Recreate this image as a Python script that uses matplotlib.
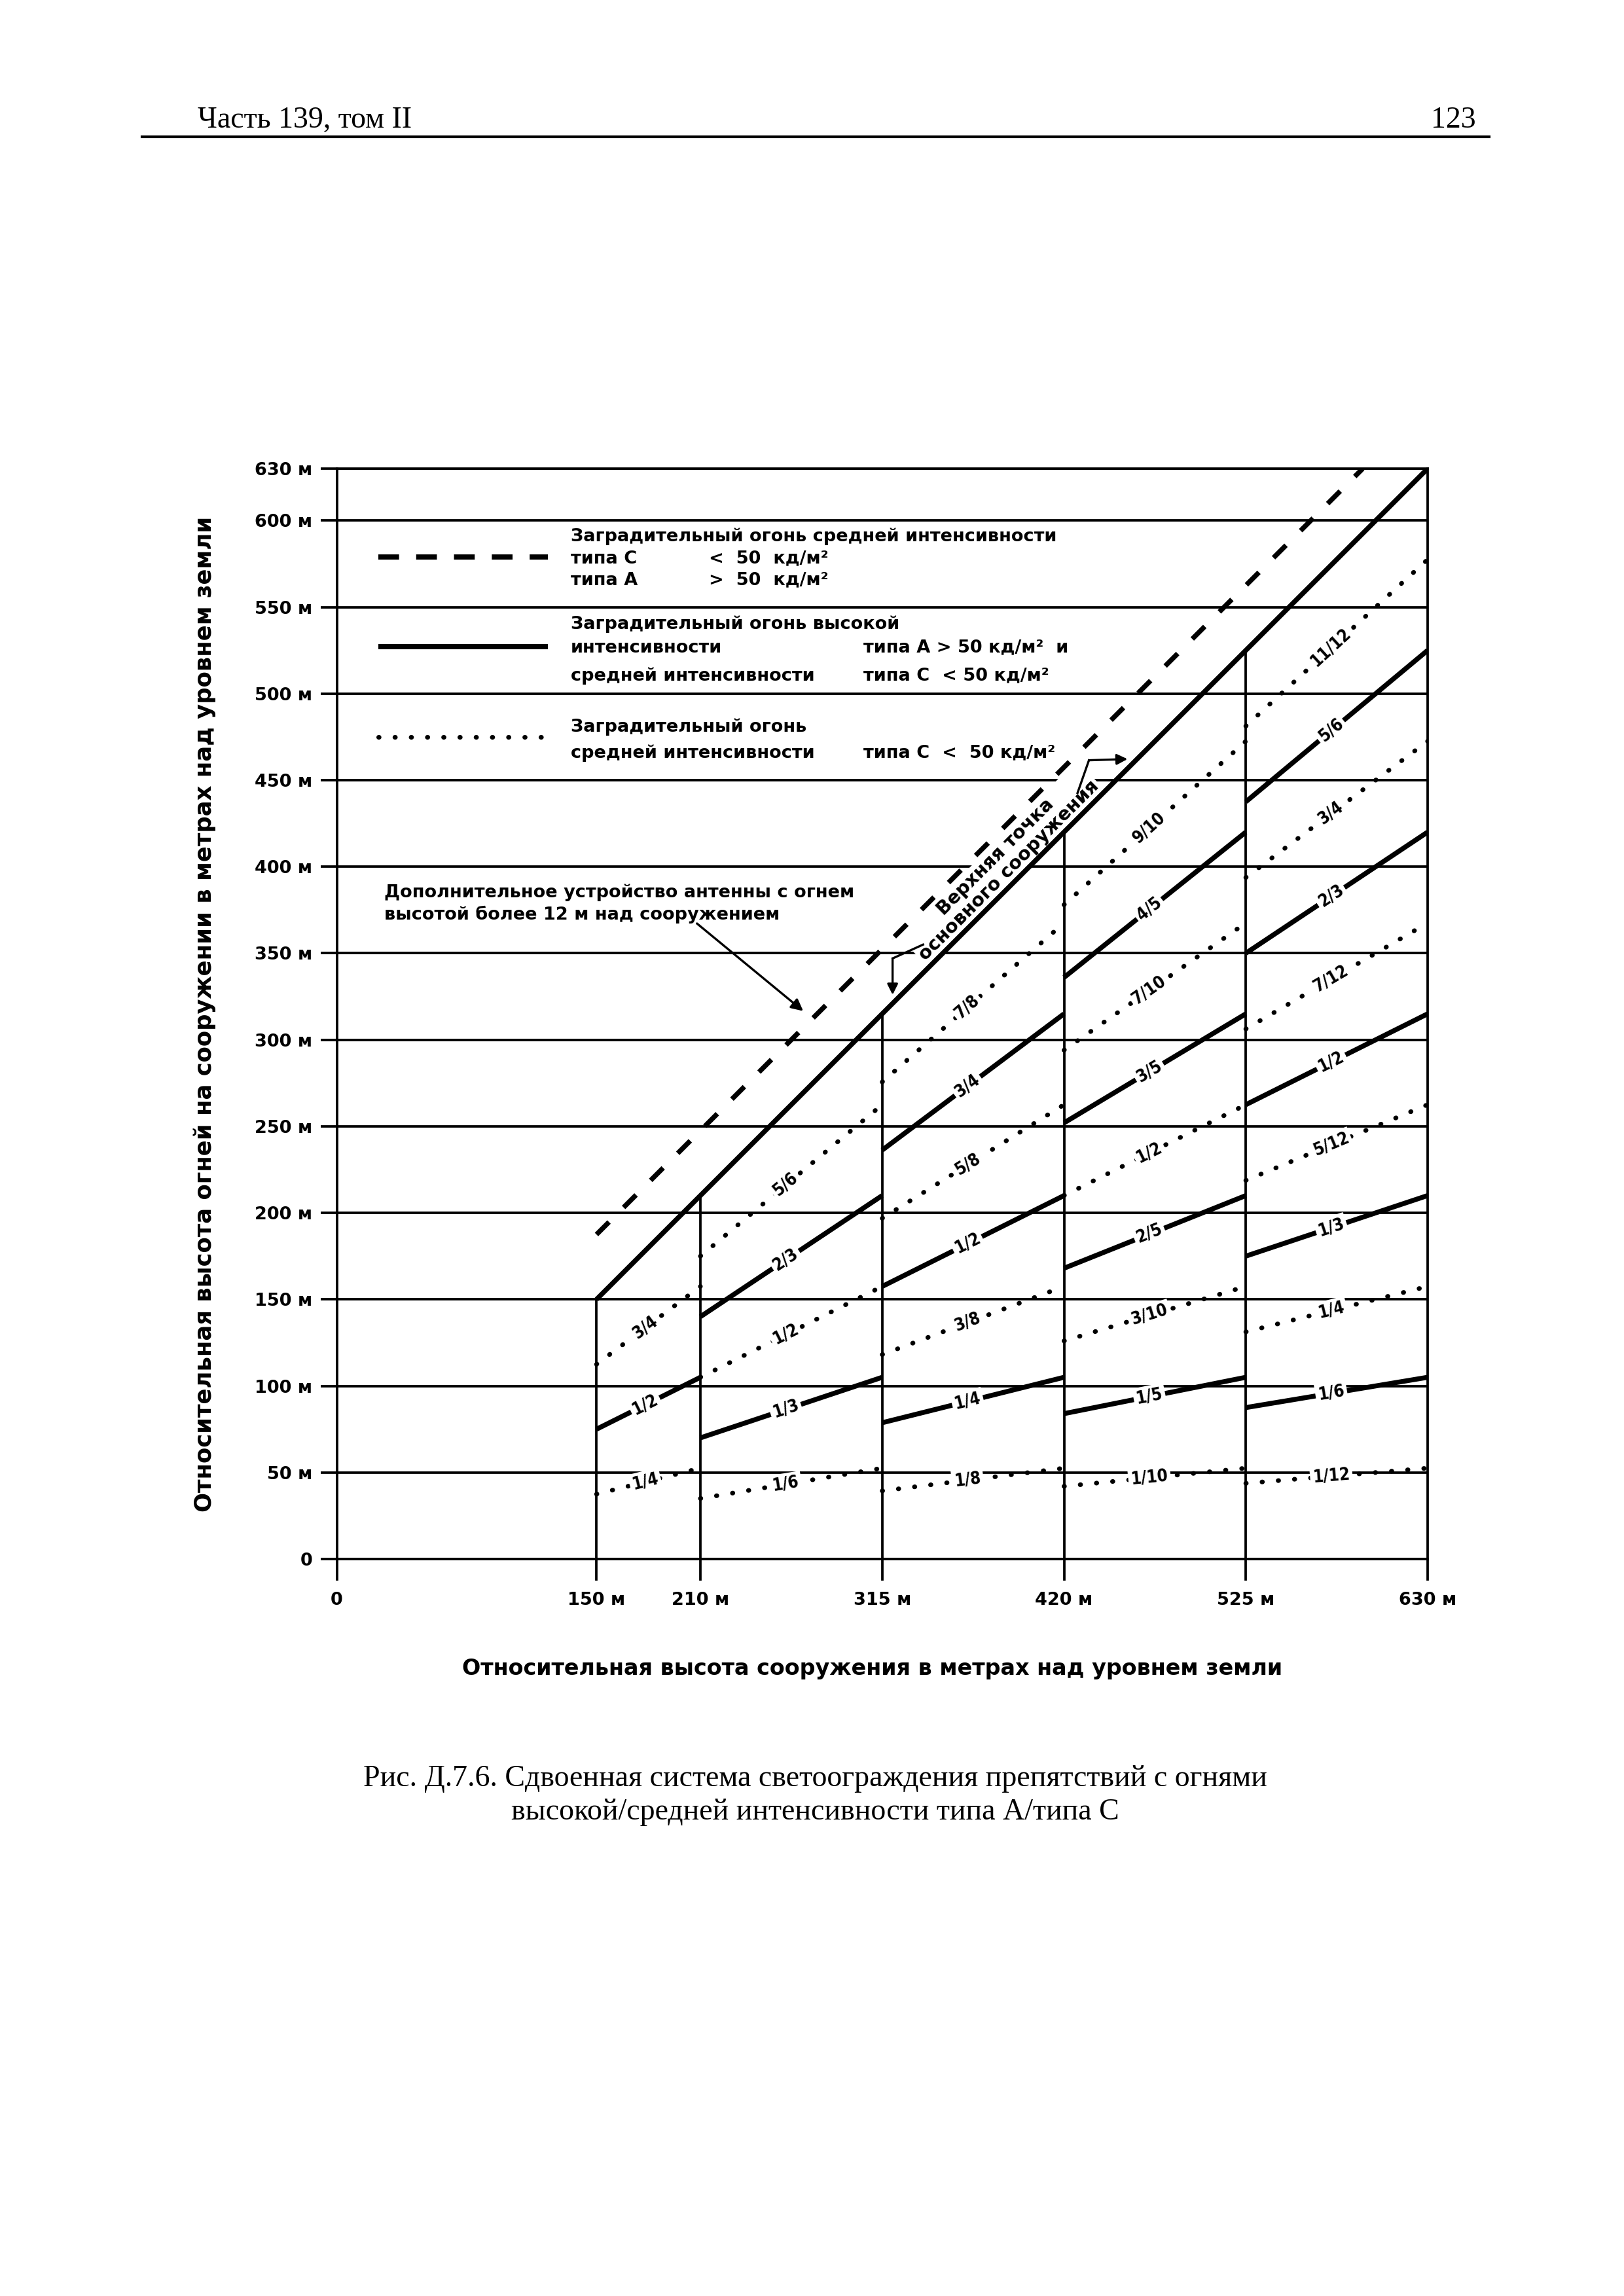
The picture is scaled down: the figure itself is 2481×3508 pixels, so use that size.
import numpy as np
import matplotlib.pyplot as plt
from matplotlib.lines import Line2D
from fractions import Fraction

plt.rcParams['font.family'] = ['DejaVu Sans']

# границы участков по высоте сооружения, м
seg_starts = [150, 210, 315, 420, 525]
seg_ends = [210, 315, 420, 525, 630]

# доли высоты: сплошные линии (огни А / С) и пунктир (огни С)
solid_fracs = [
    ['1/2'],
    ['2/3', '1/3'],
    ['3/4', '1/2', '1/4'],
    ['4/5', '3/5', '2/5', '1/5'],
    ['5/6', '2/3', '1/2', '1/3', '1/6'],
]
dotted_fracs = [
    ['3/4', '1/4'],
    ['5/6', '1/2', '1/6'],
    ['7/8', '5/8', '3/8', '1/8'],
    ['9/10', '7/10', '1/2', '3/10', '1/10'],
    ['11/12', '3/4', '7/12', '5/12', '1/4', '1/12'],
]

# верхняя точка основного сооружения
top_x = [150, 630]
top_y = [150, 630]
# антенна с огнем более 12 м над сооружением
antenna_x = [150, 592.5]
antenna_y = [187.5, 630]

x_ticks = [0, 150, 210, 315, 420, 525, 630]
x_labels = ['0', '150 м', '210 м', '315 м', '420 м', '525 м', '630 м']
y_ticks = [0, 50, 100, 150, 200, 250, 300, 350, 400, 450, 500, 550, 600, 630]
y_labels = ['0', '50 м', '100 м', '150 м', '200 м', '250 м', '300 м', '350 м',
            '400 м', '450 м', '500 м', '550 м', '600 м', '630 м']

W, H = 2481, 3508
fig = plt.figure(figsize=(W / 300, H / 300), dpi=300)
ax = fig.add_axes([514.5 / W, 1 - 2382 / H, 1666.5 / W, 1666 / H])
ax.set_xlim(0, 630)
ax.set_ylim(0, 630)

ax.set_xticks(x_ticks, x_labels)
ax.set_yticks(y_ticks, y_labels)
ax.tick_params(axis='x', length=8, width=0.9, pad=4, labelsize=6.5, direction='out')
ax.tick_params(axis='y', length=6, width=0.9, pad=3, labelsize=6.5, direction='out')
for lab in ax.get_xticklabels() + ax.get_yticklabels():
    lab.set_fontweight('bold')
ax.yaxis.grid(True, color='k', lw=0.9)
ax.set_axisbelow(True)
for sp in ax.spines.values():
    sp.set_linewidth(0.9)

# вертикали на границах участков
ax.vlines(seg_starts, 0, seg_starts, color='k', lw=0.9, zorder=2)

lab_kw = dict(rotation_mode='anchor', ha='center', va='center', fontsize=6.2,
              fontweight='bold', fontstretch='condensed', zorder=4,
              bbox=dict(boxstyle='square,pad=0.15', fc='white', ec='none'))

for x0, x1, sf, df in zip(seg_starts, seg_ends, solid_fracs, dotted_fracs):
    xs = np.array([x0, x1])
    xm = x0 + 0.47 * (x1 - x0)
    for s in sf:
        f = float(Fraction(s))
        ax.plot(xs, f * xs, color='k', lw=1.8, solid_capstyle='butt', zorder=3)
        ax.text(xm, f * xm, s, rotation=np.degrees(np.arctan(f)), **lab_kw)
    for s in df:
        f = float(Fraction(s))
        ax.plot(xs, f * xs, color='k', lw=1.7, ls=(0, (0.1, 3.4)),
                dash_capstyle='round', zorder=3)
        ax.text(xm, f * xm, s, rotation=np.degrees(np.arctan(f)), **lab_kw)

ax.plot(top_x, top_y, color='k', lw=1.8, solid_capstyle='butt', zorder=3)
ax.plot(antenna_x, antenna_y, color='k', lw=1.8, ls=(0, (3.6, 4.2)), zorder=3)

# легенда
tkw = dict(fontsize=6.5, fontweight='bold', va='center', ha='left', zorder=5)
ax.plot([24, 122], [579, 579], color='k', lw=1.9, ls=(0, (4.0, 3.3)))
ax.text(135, 590.7, 'Заградительный огонь средней интенсивности', **tkw)
ax.text(135, 578, 'типа С', **tkw)
ax.text(215, 578, '<  50  кд/м²', **tkw)
ax.text(135, 565.4, 'типа А', **tkw)
ax.text(215, 565.4, '>  50  кд/м²', **tkw)

ax.plot([24, 122], [527, 527], color='k', lw=1.9, solid_capstyle='butt')
ax.text(135, 540, 'Заградительный огонь высокой', **tkw)
ax.text(135, 526.5, 'интенсивности', **tkw)
ax.text(304, 526.5, 'типа А > 50 кд/м²  и', **tkw)
ax.text(135, 510.4, 'средней интенсивности', **tkw)
ax.text(304, 510.4, 'типа С  < 50 кд/м²', **tkw)

ax.plot([24, 122], [475, 475], color='k', lw=1.7, ls=(0, (0.1, 3.4)), dash_capstyle='round')
ax.text(135, 480.9, 'Заградительный огонь', **tkw)
ax.text(135, 465.7, 'средней интенсивности', **tkw)
ax.text(304, 465.7, 'типа С  <  50 кд/м²', **tkw)

# пояснения
ax.text(27.4, 385, 'Дополнительное устройство антенны с огнем', **tkw)
ax.text(27.4, 372.4, 'высотой более 12 м над сооружением', **tkw)
ax.annotate('', xy=(269.4, 316.6), xytext=(208, 367.2), zorder=5,
            arrowprops=dict(arrowstyle='-|>', color='k', lw=0.8, mutation_scale=9,
                            shrinkA=0, shrinkB=0))

ax.text(392, 394, 'Верхняя точка\nосновного сооружения', rotation=45,
        rotation_mode='anchor', ha='center', va='bottom', fontsize=6.8,
        fontweight='bold', linespacing=1.05, zorder=2.5,
        bbox=dict(boxstyle='square,pad=0.1', fc='white', ec='none'))
ax.plot([338.6, 321], [355, 347], color='k', lw=0.8, zorder=5)
ax.annotate('', xy=(321, 326), xytext=(321, 347), zorder=5,
            arrowprops=dict(arrowstyle='-|>', color='k', lw=0.8, mutation_scale=8,
                            shrinkA=0, shrinkB=0))
ax.plot([427.8, 434.4], [442.6, 461.5], color='k', lw=0.8, zorder=5)
ax.annotate('', xy=(456.7, 462.2), xytext=(434.4, 461.5), zorder=5,
            arrowprops=dict(arrowstyle='-|>', color='k', lw=0.8, mutation_scale=8,
                            shrinkA=0, shrinkB=0))

# подписи осей
fig.text(0.537, 1 - 2550 / H, 'Относительная высота сооружения в метрах над уровнем земли',
         ha='center', va='center', fontsize=8, fontweight='bold')
fig.text(0.126, 1 - 1549 / H,
         'Относительная высота огней на сооружении в метрах над уровнем земли',
         ha='center', va='center', rotation=90, fontsize=8.5, fontweight='bold')

# колонтитул и подпись рисунка
serif = ['Liberation Serif', 'DejaVu Serif']
fig.text(135 * 2.237 / W, 1 - 195 / H, 'Часть 139, том II', family=serif,
         fontsize=11, ha='left', va='baseline')
fig.text(2255 / W, 1 - 195 / H, '123', family=serif, fontsize=11, ha='right',
         va='baseline')
fig.add_artist(Line2D([217 / W, 2275 / W], [1 - 209 / H, 1 - 209 / H],
                      transform=fig.transFigure, color='k', lw=1.0))
fig.text(0.502, 1 - 2718 / H,
         'Рис. Д.7.6. Сдвоенная система светоограждения препятствий с огнями',
         family=serif, fontsize=11, ha='center', va='center')
fig.text(0.502, 1 - 2769 / H, 'высокой/средней интенсивности типа А/типа С',
         family=serif, fontsize=11, ha='center', va='center')

fig.savefig('out.png', dpi=300, facecolor='white')
